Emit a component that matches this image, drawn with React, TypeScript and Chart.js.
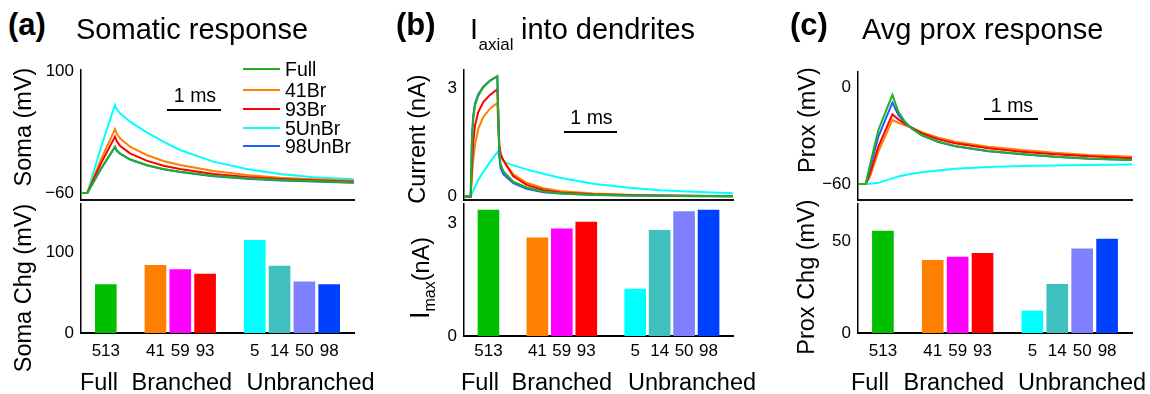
import React, { useEffect, useRef } from 'react';
import { Chart, registerables } from 'chart.js';

Chart.register(...registerables);

const FONT = '"Liberation Sans", Arial, Helvetica, sans-serif';
Chart.defaults.font.family = FONT;
Chart.defaults.color = '#000';

// ---------------- data ----------------
const SERIES_NAMES = ['Full', '41Br', '93Br', '5UnBr', '98UnBr'];
const SERIES_COLORS = ['#22b022', '#ff8000', '#ff0000', '#00ffff', '#1f5fff'];

// (a) somatic response, mV vs ms
const TIME_A = [0, 0.117, 0.37, 0.63, 0.66, 0.722, 0.907, 1.216, 1.525, 1.833, 2.45, 3.068, 3.685, 4.3, 5.05];
const SOMA_FULL = [-60, -60, -28, 0.7, -4, -8.0, -15.8, -23.3, -28.5, -32.0, -37.3, -40.7, -43.0, -44.3, -46.1];
const SOMA_41BR = [-60, -60, -16, 23.9, 18, 11.7, 0.7, -10.2, -18.0, -23.3, -31.1, -36.4, -39.9, -42.1, -43.9];
const SOMA_93BR = [-60, -60, -21, 13.9, 8, 2.0, -8.0, -17.6, -24.2, -28.5, -35.1, -39.0, -41.6, -43.4, -45.2];
const SOMA_5UNBR = [-60, -60, 0, 55.4, 50, 44.5, 33.5, 19.6, 7.3, -3.6, -18.9, -28.5, -35.1, -39.4, -42.1];
const SOMA_98UNBR = [-60, -60, -28.5, 0.3, -4.5, -8.5, -16.3, -23.8, -29.0, -32.6, -37.9, -41.3, -43.6, -45.0, -46.7];

// (b) axial current into dendrites, nA vs ms
const TIME_B = [0, 0.125, 0.149, 0.174, 0.206, 0.268, 0.361, 0.486, 0.623, 0.66, 0.685, 0.735, 0.797, 0.922, 1.171, 1.483, 1.794, 2.417, 3.04, 3.663, 4.287, 5.03];
const IAX_FULL = [0, 0, 1.52, 2.15, 2.52, 2.79, 3.02, 3.2, 3.32, 1.25, 0.9, 0.7, 0.6, 0.41, 0.25, 0.14, 0.09, 0.05, 0.03, 0.02, 0.015, 0.01];
const IAX_41BR = [0, 0, 0.58, 1.04, 1.43, 1.88, 2.2, 2.43, 2.59, 1.34, 1.15, 1.0, 0.87, 0.61, 0.38, 0.23, 0.15, 0.08, 0.05, 0.03, 0.02, 0.015];
const IAX_93BR = [0, 0, 0.88, 1.52, 1.97, 2.34, 2.61, 2.81, 2.97, 1.43, 1.18, 1.0, 0.85, 0.56, 0.32, 0.18, 0.11, 0.06, 0.04, 0.03, 0.02, 0.01];
const IAX_5UNBR = [0, 0, 0.08, 0.16, 0.27, 0.46, 0.68, 0.95, 1.23, 1.13, 1.08, 1.0, 0.93, 0.86, 0.75, 0.63, 0.52, 0.35, 0.25, 0.17, 0.13, 0.09];
const IAX_98UNBR = [0, 0, 1.7, 2.25, 2.58, 2.83, 3.04, 3.21, 3.33, 1.1, 0.78, 0.62, 0.53, 0.37, 0.21, 0.12, 0.08, 0.04, 0.03, 0.02, 0.01, 0.01];

// (c) average proximal response, mV vs ms
const TIME_C = [0, 0.142, 0.222, 0.377, 0.636, 0.747, 0.87, 0.994, 1.179, 1.488, 1.796, 2.414, 3.03, 3.648, 4.265, 5.07];
const PROX_FULL = [-60, -60, -48.2, -26.6, -4.9, -15.3, -21.5, -25.6, -29.7, -33.8, -36.5, -39.6, -41.4, -43.1, -44.3, -45.1];
const PROX_41BR = [-60, -60, -55.5, -40.0, -20.4, -22.1, -23.7, -25.2, -28.0, -31.3, -33.8, -36.9, -39.0, -40.6, -42.1, -43.1];
const PROX_93BR = [-60, -60, -53.4, -36.9, -16.9, -20.0, -22.9, -25.2, -28.6, -32.3, -34.8, -37.9, -40.0, -41.6, -42.9, -44.1];
const PROX_5UNBR = [-60, -60, -59.9, -59.3, -56.5, -55.4, -54.4, -53.6, -52.8, -51.6, -50.5, -49.5, -48.9, -48.5, -48.2, -48.0];
const PROX_98UNBR = [-60, -60, -50.3, -30.7, -9.7, -17.3, -22.1, -25.6, -29.9, -34.0, -36.7, -39.8, -41.6, -43.2, -44.4, -45.2];

// bar charts (blank categories separate the groups)
const BAR_LABELS = ['', '513', '', '41', '59', '93', '', '5', '14', '50', '98', ''];
const SOMA_CHG = [null, 60, null, 84, 78.6, 73, null, 115, 83, 63.4, 60, null];
const IMAX = [null, 3.35, null, 2.61, 2.85, 3.03, null, 1.25, 2.81, 3.31, 3.35, null];
const PROX_CHG = [null, 55.4, null, 39.5, 41.2, 43.3, null, 12, 26.5, 45.7, 51, null];
const BAR_COLORS = ['#fff', '#00bf00', '#fff', '#ff8000', '#ff00ff', '#ff0000', '#fff', '#00ffff', '#40bfbf', '#8080ff', '#0040ff', '#fff'];

const GROUP_NAMES = ['Full', 'Branched', 'Unbranched'];

// ---------------- helpers ----------------
type Box = { l: number; t: number; r: number; b: number };
type Pad = { left: number; right: number; top: number; bottom: number };

const fmtTick = (v: number) => (v < 0 ? '\u2212' + Math.abs(v) : String(v));

function yScale(min: number, max: number, ticks: number[], pad: Pad) {
  return {
    type: 'linear',
    min,
    max,
    afterBuildTicks: (s: any) => {
      s.ticks = ticks.map((v) => ({ value: v }));
    },
    afterFit: (s: any) => {
      s.width = pad.left;
    },
    grid: { display: false, drawTicks: false },
    border: { display: true, color: '#000', width: 1.5 },
    ticks: { padding: 7, color: '#000', font: { size: 17, family: FONT }, callback: (v: any) => fmtTick(Number(v)) },
  };
}

function lineConfig(time: number[], series: number[][], xMax: number, yMin: number, yMax: number, yTicks: number[], pad: Pad) {
  // draw order: first dataset on top -> Full, 98UnBr, 93Br, 41Br, 5UnBr
  const order = [0, 4, 2, 1, 3];
  return {
    type: 'line',
    data: {
      datasets: order.map((i) => ({
        label: SERIES_NAMES[i],
        data: time.map((t, k) => ({ x: t, y: series[i][k] })),
        borderColor: SERIES_COLORS[i],
        borderWidth: 2,
        pointRadius: 0,
        tension: 0,
        fill: false,
      })),
    },
    options: {
      animation: false,
      responsive: false,
      devicePixelRatio: 1,
      layout: { padding: { left: 0, right: pad.right, top: pad.top, bottom: 0 } },
      plugins: { legend: { display: false }, tooltip: { enabled: false } },
      scales: {
        x: {
          type: 'linear',
          min: 0,
          max: xMax,
          ticks: { display: false },
          grid: { display: false, drawTicks: false },
          border: { display: true, color: '#111', width: 2 },
          afterFit: (s: any) => {
            s.height = pad.bottom;
          },
        },
        y: yScale(yMin, yMax, yTicks, pad),
      },
    },
  };
}

function barConfig(values: (number | null)[], yMax: number, yTicks: number[], pad: Pad, labelPad: number) {
  return {
    type: 'bar',
    data: {
      labels: BAR_LABELS,
      datasets: [
        {
          data: values,
          backgroundColor: BAR_COLORS,
          borderWidth: 0,
          barThickness: 21,
        },
      ],
    },
    options: {
      animation: false,
      responsive: false,
      devicePixelRatio: 1,
      layout: { padding: { left: 0, right: pad.right, top: pad.top, bottom: 0 } },
      plugins: { legend: { display: false }, tooltip: { enabled: false } },
      scales: {
        x: {
          type: 'category',
          offset: false,
          ticks: { autoSkip: false, maxRotation: 0, minRotation: 0, padding: labelPad, color: '#000', font: { size: 17, family: FONT } },
          grid: { display: false, drawTicks: false, offset: false },
          border: { display: true, color: '#000', width: 2 },
          afterFit: (s: any) => {
            s.height = pad.bottom;
          },
        },
        y: yScale(0, yMax, yTicks, pad),
      },
    },
  };
}

function ChartCanvas({ box, pad, config }: { box: Box; pad: Pad; config: any }) {
  const ref = useRef<HTMLCanvasElement>(null);
  useEffect(() => {
    const chart = new Chart(ref.current as HTMLCanvasElement, config);
    return () => chart.destroy();
  }, []);
  const w = box.r - box.l + pad.left + pad.right;
  const h = box.b - box.t + pad.top + pad.bottom;
  return (
    <canvas
      ref={ref}
      width={w}
      height={h}
      style={{ position: 'absolute', left: box.l - pad.left, top: box.t - pad.top, width: w, height: h }}
    />
  );
}

// text placed by its baseline
function T({ x, base, size, bold, anchor, children }: any) {
  return (
    <div
      style={{
        position: 'absolute',
        left: x,
        top: base - 0.8465 * size,
        fontSize: size,
        lineHeight: `${size}px`,
        fontWeight: bold ? 'bold' : 'normal',
        whiteSpace: 'nowrap',
        transform: anchor === 'middle' ? 'translateX(-50%)' : undefined,
      }}
    >
      {children}
    </div>
  );
}

// vertical (rotated) axis title centred on (cx, cy)
function VT({ cx, cy, size, children }: any) {
  return (
    <div
      style={{
        position: 'absolute',
        left: cx,
        top: cy,
        fontSize: size,
        lineHeight: `${size}px`,
        whiteSpace: 'nowrap',
        transform: 'translate(-50%, -50%) rotate(-90deg)',
      }}
    >
      {children}
    </div>
  );
}

function ScaleBar({ x1, x2, y, textBase }: any) {
  return (
    <>
      <div style={{ position: 'absolute', left: x1, top: y - 1, width: x2 - x1, height: 2, background: '#000' }} />
      <T x={(x1 + x2) / 2 + 1} base={textBase} size={19.5} anchor="middle">
        1 ms
      </T>
    </>
  );
}

const TOP_PAD: Pad = { left: 60, right: 8, top: 22, bottom: 22 };
const BAR_PAD: Pad = { left: 60, right: 8, top: 22, bottom: 42 };

const A_TOP: Box = { l: 81, t: 70, r: 354, b: 200 };
const A_BAR: Box = { l: 81, t: 204, r: 354, b: 333 };
const B_TOP: Box = { l: 464, t: 70, r: 733, b: 200 };
const B_BAR: Box = { l: 464, t: 204, r: 733, b: 336 };
const C_TOP: Box = { l: 858, t: 72, r: 1132, b: 200 };
const C_BAR: Box = { l: 858, t: 204, r: 1132, b: 333 };

const LEGEND_Y = [69, 90, 109, 128, 146];

export default function App() {
  const somaSeries = [SOMA_FULL, SOMA_41BR, SOMA_93BR, SOMA_5UNBR, SOMA_98UNBR];
  const iaxSeries = [IAX_FULL, IAX_41BR, IAX_93BR, IAX_5UNBR, IAX_98UNBR];
  const proxSeries = [PROX_FULL, PROX_41BR, PROX_93BR, PROX_5UNBR, PROX_98UNBR];

  const groupX = [
    [80, 131.5, 246.5],
    [461, 511.5, 628],
    [851, 903.5, 1018],
  ];

  return (
    <div
      style={{
        position: 'absolute',
        left: 0,
        top: 0,
        width: 1150,
        height: 394,
        background: '#fff',
        overflow: 'hidden',
        fontFamily: FONT,
        color: '#000',
      }}
    >
      <ChartCanvas box={A_TOP} pad={TOP_PAD} config={lineConfig(TIME_A, somaSeries, 5.055, -69.2, 101.3, [-60, 100], TOP_PAD)} />
      <ChartCanvas box={A_BAR} pad={BAR_PAD} config={barConfig(SOMA_CHG, 159.9, [0, 100], BAR_PAD, 8)} />
      <ChartCanvas box={B_TOP} pad={TOP_PAD} config={lineConfig(TIME_B, iaxSeries, 5.03, -0.097, 3.5, [0, 3], TOP_PAD)} />
      <ChartCanvas box={B_BAR} pad={BAR_PAD} config={barConfig(IMAX, 3.51, [0, 3], BAR_PAD, 5)} />
      <ChartCanvas box={C_TOP} pad={TOP_PAD} config={lineConfig(TIME_C, proxSeries, 5.07, -69.9, 9.28, [-60, 0], TOP_PAD)} />
      <ChartCanvas box={C_BAR} pad={BAR_PAD} config={barConfig(PROX_CHG, 70.1, [0, 50], BAR_PAD, 8)} />

      {/* panel titles */}
      <T x={8} base={35} size={31} bold>(a)</T>
      <T x={76} base={40} size={29}>Somatic response</T>
      <T x={396} base={35} size={31} bold>(b)</T>
      <T x={470} base={40} size={29}>I</T>
      <T x={478.5} base={50} size={17}>axial</T>
      <T x={521} base={40} size={29}>into dendrites</T>
      <T x={790} base={35} size={31} bold>(c)</T>
      <T x={862} base={40} size={29}>Avg prox response</T>

      {/* legend in (a) */}
      {SERIES_NAMES.map((name, i) => (
        <React.Fragment key={name}>
          <div
            style={{
              position: 'absolute',
              left: 243,
              top: LEGEND_Y[i] - 1,
              width: 37,
              height: 2,
              background: SERIES_COLORS[i],
            }}
          />
          <T x={285} base={LEGEND_Y[i] + 7.5} size={19.5}>
            {name}
          </T>
        </React.Fragment>
      ))}

      {/* 1 ms scale bars */}
      <ScaleBar x1={167} x2={221} y={110} textBase={102.5} />
      <ScaleBar x1={564} x2={617} y={132} textBase={125} />
      <ScaleBar x1={984} x2={1038} y={119} textBase={112.5} />

      {/* y axis titles */}
      <VT cx={24} cy={127} size={23.5}>Soma (mV)</VT>
      <VT cx={24} cy={288} size={23.5}>Soma Chg (mV)</VT>
      <VT cx={418} cy={139} size={23.5}>Current (nA)</VT>
      <VT cx={422} cy={278} size={23.5}>
        <span style={{ fontSize: 27 }}>I</span>
        <span style={{ fontSize: 16, position: 'relative', top: 6 }}>max</span>
        <span>(nA)</span>
      </VT>
      <VT cx={808} cy={120} size={23.5}>Prox (mV)</VT>
      <VT cx={807} cy={277} size={23.5}>Prox Chg (mV)</VT>

      {/* group labels under bars */}
      {groupX.map((xs, p) =>
        xs.map((x, g) => (
          <T key={`${p}-${g}`} x={x} base={391} size={23.5}>
            {GROUP_NAMES[g]}
          </T>
        ))
      )}
    </div>
  );
}
